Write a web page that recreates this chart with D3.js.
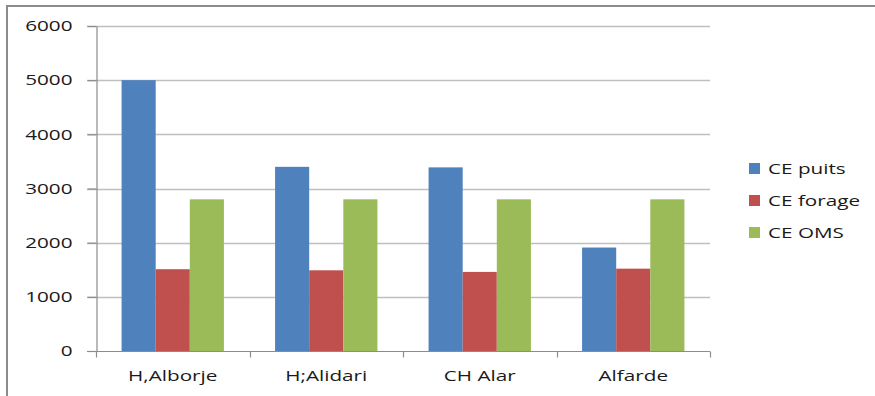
<!DOCTYPE html>
<html>
<head>
<meta charset="utf-8">
<script src="https://cdn.jsdelivr.net/npm/d3@7"></script>
<style>
  html, body { margin: 0; padding: 0; background: #fff; }
  svg { display: block; }
  text { font-family: "Open Sans", "DejaVu Sans", sans-serif; fill: #1a1a1a; }
</style>
</head>
<body>
<svg id="chart" width="875" height="396"></svg>
<script>
// Sites sampled and conductivity readings (µS/cm)
const categories = ["H,Alborje", "H;Alidari", "CH Alar", "Alfarde"];
const seriesNames = ["CE puits", "CE forage", "CE OMS"];
const cePuits = [5000, 3400, 3390, 1910];
const ceForage = [1510, 1490, 1460, 1520];
const ceOms = [2800, 2800, 2800, 2800];
const yTicks = [0, 1000, 2000, 3000, 4000, 5000, 6000];
const colors = ["#4f81bd", "#c0504d", "#9bbb59"];

const seriesValues = [cePuits, ceForage, ceOms];
const rows = categories.map((c, i) => ({
  cat: c,
  vals: seriesNames.map((s, j) => ({ key: s, value: seriesValues[j][i] }))
}));

const svg = d3.select("#chart");
const W = 875, H = 396;
const plot = { left: 96, right: 710, top: 26, bottom: 351 };
const textStretch = 1.38;

// outer chart frame
svg.append("rect")
  .attr("x", 7).attr("y", 6)
  .attr("width", W + 10).attr("height", H + 10)
  .attr("fill", "#fff")
  .attr("stroke", "#8c8c8c").attr("stroke-width", 2);

const x = d3.scaleBand().domain(categories)
  .range([plot.left, plot.right]).paddingInner(0).paddingOuter(0);
// Excel-style 150% gap: group occupies 3/4.5 of the band
const x1 = d3.scaleBand().domain(seriesNames)
  .range([x.bandwidth() * 0.75 / 4.5, x.bandwidth() * (1 - 0.75 / 4.5)]);
const y = d3.scaleLinear().domain([0, 6000]).range([plot.bottom, plot.top]);

// gridlines
svg.append("g")
  .selectAll("line")
  .data(yTicks.filter(t => t > 0))
  .join("line")
  .attr("x1", plot.left - 9).attr("x2", plot.right)
  .attr("y1", d => Math.round(y(d)) + 0.5).attr("y2", d => Math.round(y(d)) + 0.5)
  .attr("stroke", "#bfbfbf").attr("stroke-width", 1.5);

// y axis
const yAxis = svg.append("g")
  .attr("transform", `translate(${plot.left + 0.5},0)`)
  .call(d3.axisLeft(y).tickValues(yTicks).tickFormat(d3.format("d"))
    .tickSize(9).tickSizeOuter(0).tickPadding(0));
yAxis.select(".domain").attr("stroke", "#8c8c8c").attr("stroke-width", 1.2);
yAxis.selectAll(".tick line").attr("stroke", "#8c8c8c").attr("stroke-width", 1.2);
yAxis.selectAll(".tick text")
  .attr("x", -24 / textStretch)
  .attr("transform", `scale(${textStretch},1)`)
  .style("font-size", "15px")
  .style("font-family", "'Open Sans', sans-serif")
  .attr("fill", "#1a1a1a");

// bars
const groups = svg.append("g")
  .selectAll("g")
  .data(rows)
  .join("g")
  .attr("transform", d => `translate(${x(d.cat)},0)`);
groups.selectAll("rect")
  .data(d => d.vals)
  .join("rect")
  .attr("x", d => x1(d.key))
  .attr("width", x1.bandwidth())
  .attr("y", d => y(d.value))
  .attr("height", d => y(0) - y(d.value))
  .attr("fill", (d, i) => colors[i]);

// x axis with boundary ticks
const xAxisG = svg.append("g")
  .attr("transform", `translate(0,${plot.bottom + 0.5})`);
xAxisG.append("line")
  .attr("x1", plot.left - 9).attr("x2", plot.right)
  .attr("stroke", "#8c8c8c").attr("stroke-width", 1.2);
const bounds = categories.map(c => x(c)).concat([x.range()[1]]);
xAxisG.selectAll("line.b")
  .data(bounds)
  .join("line")
  .attr("class", "b")
  .attr("x1", d => Math.round(d) + 0.5).attr("x2", d => Math.round(d) + 0.5)
  .attr("y1", 0).attr("y2", 6)
  .attr("stroke", "#8c8c8c").attr("stroke-width", 1.2);
xAxisG.selectAll("text")
  .data(categories)
  .join("text")
  .attr("transform", d => `translate(${x(d) + x.bandwidth() / 2},29) scale(${textStretch},1)`)
  .attr("text-anchor", "middle")
  .style("font-size", "15px")
  .text(d => d);

// legend
const legend = svg.append("g").attr("transform", "translate(749,169)");
const li = legend.selectAll("g")
  .data(seriesNames)
  .join("g")
  .attr("transform", (d, i) => `translate(0,${i * 32})`);
li.append("rect")
  .attr("x", 0).attr("y", -6)
  .attr("width", 11).attr("height", 11)
  .attr("fill", (d, i) => colors[i]);
li.append("text")
  .attr("transform", `translate(19,0) scale(${textStretch},1)`)
  .attr("dy", "0.35em")
  .style("font-size", "15px")
  .text(d => d);
</script>
</body>
</html>
